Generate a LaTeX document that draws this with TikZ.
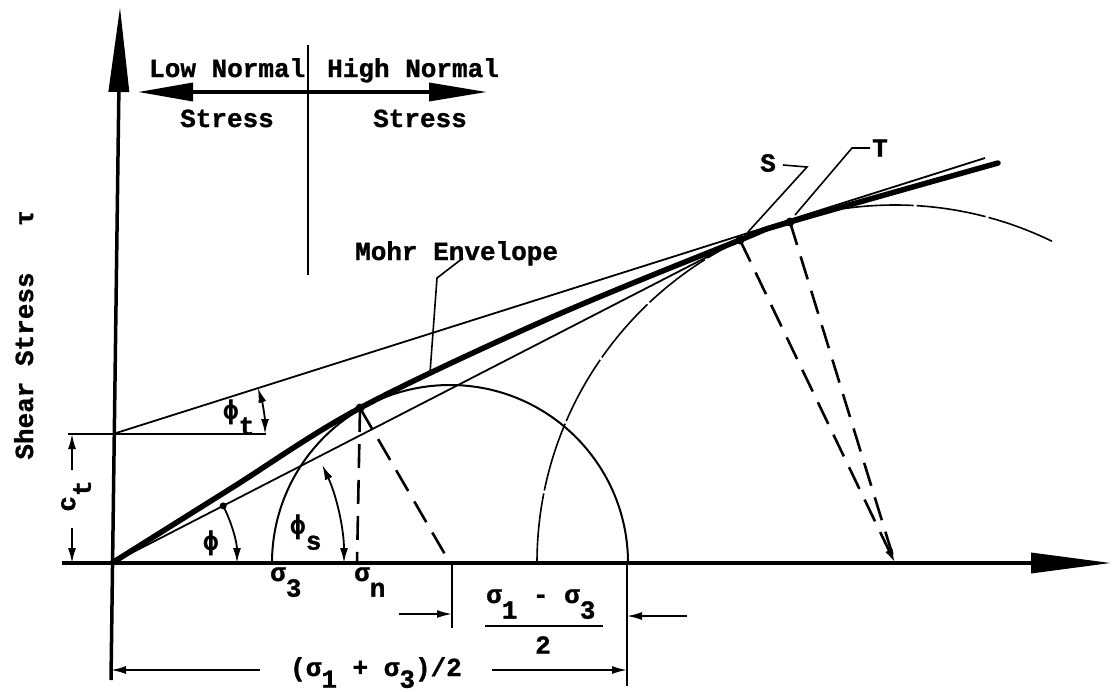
\documentclass[tikz,border=0pt]{standalone}
\usepackage{fontspec}
\setmonofont{Liberation Mono}[BoldFeatures={FakeBold=1.2}]
\newfontfamily\phifont{DejaVu Sans Mono}
\usetikzlibrary{arrows.meta,calc}
\newcommand\dn[1]{\raisebox{-0.6em}{#1}}
\newcommand\dnb[1]{\raisebox{-0.45em}{#1}}
\newcommand\phisym{{\phifont ϕ}}
\begin{document}
\begin{tikzpicture}[x=1pt,y=-1pt,
  lab/.style={font=\ttfamily\bfseries\fontsize{26}{26}\selectfont, inner sep=0pt},
  axis/.style={line width=3.5pt},
  thinl/.style={line width=1.8pt},
  env/.style={line width=5.5pt, line cap=round},
  dashl/.style={line width=2.6pt, dash pattern=on 24pt off 12pt},
  dimtip/.style={-{Latex[length=15pt,width=8pt]}, line width=1.8pt},
  dimtips/.style={{Latex[length=15pt,width=8pt]}-{Latex[length=15pt,width=8pt]}, line width=1.8pt},
  dot/.style={circle, fill=black, inner sep=0pt, minimum size=9pt}]
\useasboundingbox (0,0) rectangle (1113,691);
% key points
\coordinate (O) at (112,563);
\coordinate (Ct) at (113,434);
\coordinate (P) at (360,408);
\coordinate (S) at (740,240);
\coordinate (T) at (790,222);
\coordinate (C1) at (450,563);
\coordinate (C2) at (895,563);
\coordinate (Q) at ($(O)+(-27.2:125)$);
% axes
\draw[axis, -{Triangle[length=80pt,width=20pt]}] (62,563) -- (1111,563);
\draw[axis, -{Triangle[length=85pt,width=20pt]}] (111,680) -- (120,7);
% top double arrow
\draw[line width=3.5pt, {Triangle[length=55pt,width=18pt]}-{Triangle[length=58pt,width=18pt]}] (138,92) -- (487,92);
\draw[line width=2.5pt] (308,45) -- (308,275);
\node[lab, anchor=base west] (low) at (149,77) {Low Normal};
\node[lab, anchor=base west] (high) at (327,77) {High Normal};
\node[lab, anchor=base west] (s1) at (180,127) {Stress};
\node[lab, anchor=base west] (s2) at (373,127) {Stress};
% y-axis label
\node[lab, rotate=90, anchor=base] (shear) at (33,366) {Shear Stress};
\node[lab, rotate=90, anchor=base] (tau) at (33,218) {τ};
% c_t
\draw[thinl] (68,434) -- (266,434);
\draw[thinl] (Ct) -- (985,158);
\draw[dimtip] (72,470) -- (72,434);
\draw[dimtip] (72,528) -- (72,563);
\node[lab, rotate=90] (ct) at (76,496) {c\dn{t}};
\draw[dimtips] ([shift={(-17.7:152)}]Ct) arc (-17.7:0:152);
\node[lab, anchor=base west] (phit) at (223,419) {\phisym\dn{t}};
% secant line O-S
\draw[thinl] (O) -- (S);
% small circle
\draw[line width=2pt] (272,563) arc (-180:0:178);
% big circle
\draw[line width=1.6pt, dash pattern=on 70pt off 3pt] (537,563) arc (-180:-64:358);
% envelope
\draw[env] plot[smooth, tension=0.55] coordinates {(112,563) (230,489) (360,408) (550,318) (740,240) (790,222) (998,163)};
% dashed radii
\draw[dashl] (P) -- (357,563);
\draw[dashl] (P) -- (C1);
\draw[dashl, -{Latex[length=14pt,width=8pt]}] (S) -- (C2);
\draw[dashl] (T) -- (C2);
% dots
\node[dot] (dP) at (P) {};
\node[dot] (dS) at (S) {};
\node[dot] (dT) at (T) {};
\node[dot, minimum size=7pt] (dQ) at (Q) {};
% angle phi
\draw[line width=1.8pt, -{Latex[length=15pt,width=8pt]}] (Q) arc (-27.2:0:125);
\node[lab, anchor=base west] (phi) at (203,550) {\phisym};
% angle phi_s
\draw[dimtips] ([shift={(-25:232)}]O) arc (-25:0:232);
\node[lab, anchor=base west] (phis) at (290,534) {\phisym\dn{s}};
% labels S T
\node[lab] (Slab) at (768,163) {S};
\node[lab] (Tlab) at (880,148) {T};
\draw[line width=1.6pt] (783,165) -- (807,167) -- (748,232);
\draw[line width=1.6pt] (870,148) -- (852,148) -- (795,215);
% Mohr envelope label
\node[lab, anchor=base west] (mohr) at (355,260) {Mohr Envelope};
\draw[line width=1.6pt] (463,258) -- (437,278) -- (430,373);
% sigma labels
\node[lab, anchor=base west] (sig3) at (270,581) {σ\dn{3}};
\node[lab, anchor=base west] (sign) at (354,581) {σ\dn{n}};
% radius dimension
\draw[line width=1.8pt] (452,563) -- (452,628);
\draw[dimtip] (399,614) -- (452,614);
\draw[dimtip] (687,616) -- (627,616);
\draw[line width=1.8pt] (627,563) -- (627,686);
\node[lab, anchor=base west] (num) at (486,603) {σ\dn{1} - σ\dn{3}};
\draw[line width=2pt] (485,626) -- (603,626);
\node[lab] (two) at (543,645) {2};
% bottom dimension
\draw[dimtip] (260,670) -- (111,670);
\draw[dimtip] (492,670) -- (627,670);
\node[lab, anchor=base west] (half) at (290,676) {(σ\dnb{1} + σ\dnb{3})/2};
\end{tikzpicture}
\end{document}
